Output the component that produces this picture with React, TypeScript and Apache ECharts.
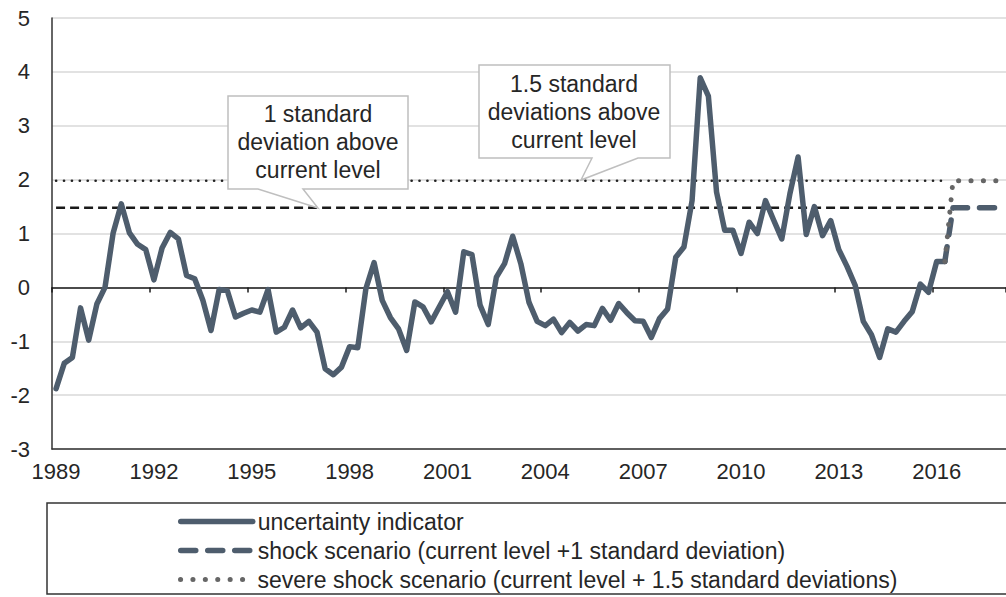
import React, { useEffect, useRef } from 'react';
import * as echarts from 'echarts';

const FONT = '"Liberation Sans", Arial, Helvetica, sans-serif';
const TEXT_COLOR = '#262626';
const SLATE = '#4e5d6d';

// Categories: quarters 1989 Q1 .. 2018 Q1
const years = [
  1989, 1990, 1991, 1992, 1993, 1994, 1995, 1996, 1997, 1998, 1999, 2000, 2001, 2002, 2003,
  2004, 2005, 2006, 2007, 2008, 2009, 2010, 2011, 2012, 2013, 2014, 2015, 2016, 2017, 2018,
];
const quarterNames = ['Q1', 'Q2', 'Q3', 'Q4'];
const quarters: string[] = [];
years.forEach((y) => quarterNames.forEach((q) => quarters.push(`${y} ${q}`)));
quarters.splice(117);

// Uncertainty indicator, quarterly, 1989 Q1 .. 2016 Q2
const uncertainty: number[] = [
  -1.88, -1.41, -1.30, -0.38, // 1989
  -0.98, -0.31, 0.00, 1.01, // 1990
  1.55, 1.01, 0.80, 0.70, // 1991
  0.14, 0.73, 1.02, 0.90, // 1992
  0.22, 0.16, -0.24, -0.80, // 1993
  -0.04, -0.06, -0.55, -0.48, // 1994
  -0.42, -0.46, -0.04, -0.83, // 1995
  -0.74, -0.42, -0.75, -0.63, // 1996
  -0.83, -1.51, -1.62, -1.48, // 1997
  -1.10, -1.12, -0.02, 0.46, // 1998
  -0.24, -0.56, -0.77, -1.17, // 1999
  -0.27, -0.36, -0.64, -0.36, // 2000
  -0.08, -0.46, 0.66, 0.61, // 2001
  -0.33, -0.69, 0.19, 0.44, // 2002
  0.95, 0.44, -0.28, -0.63, // 2003
  -0.71, -0.59, -0.84, -0.65, // 2004
  -0.81, -0.69, -0.71, -0.39, // 2005
  -0.61, -0.30, -0.47, -0.62, // 2006
  -0.63, -0.93, -0.58, -0.40, // 2007
  0.56, 0.75, 1.61, 3.89, // 2008
  3.55, 1.77, 1.06, 1.06, // 2009
  0.63, 1.21, 1.00, 1.61, // 2010
  1.25, 0.90, 1.74, 2.42, // 2011
  0.98, 1.50, 0.96, 1.24, // 2012
  0.70, 0.39, 0.04, -0.63, // 2013
  -0.88, -1.30, -0.77, -0.83, // 2014
  -0.63, -0.45, 0.06, -0.09, // 2015
  0.48, 0.48, // 2016
];

const shockLevel = 1.48; // current level + 1 standard deviation
const severeLevel = 1.98; // current level + 1.5 standard deviations

const yTicks = { min: -3, max: 5, interval: 1 };

const seriesNames = [
  'uncertainty indicator',
  'shock scenario (current level +1 standard deviation)',
  'severe shock scenario (current level + 1.5 standard deviations)',
];

const annotationTexts = [
  '1 standard\ndeviation above\ncurrent level',
  '1.5 standard\ndeviations above\ncurrent level',
];

export default function App() {
  const ref = useRef<HTMLDivElement>(null);

  useEffect(() => {
    if (!ref.current) return;
    const chart = echarts.init(ref.current, undefined, { renderer: 'svg' });
    const lastIdx = uncertainty.length - 1;

    const refShock = quarters.map((_, i) => (i <= lastIdx ? shockLevel : null));
    const refSevere = quarters.map((_, i) => (i <= lastIdx ? severeLevel : null));
    const shockScenario = quarters.map((_, i) =>
      i < lastIdx ? null : i === lastIdx ? uncertainty[lastIdx] : shockLevel
    );
    const severeScenario = quarters.map((_, i) =>
      i < lastIdx ? null : i === lastIdx ? uncertainty[lastIdx] : severeLevel
    );

    const textStyleBase = { fontFamily: FONT, fontSize: 23, fill: TEXT_COLOR };

    const legends = seriesNames.map((name, i) => ({
      data: [name],
      orient: 'horizontal',
      left: 178,
      top: 510 + 29 * i,
      padding: 0,
      itemWidth: 72,
      itemHeight: 14,
      selectedMode: false,
      itemStyle: { opacity: 0 },
      lineStyle: { width: 'inherit', type: 'inherit', cap: 'inherit' },
      textStyle: { fontSize: 23, fontFamily: FONT, color: TEXT_COLOR },
    }));

    chart.setOption({
      animation: false,
      grid: { left: 52, top: 18, width: 955, height: 431, containLabel: false },
      xAxis: [
        {
          type: 'category',
          data: quarters,
          boundaryGap: true,
          position: 'bottom',
          axisLine: { onZero: false, lineStyle: { color: '#333', width: 1.5 } },
          axisTick: { show: false },
          axisLabel: {
            interval: 11,
            formatter: (v: string) => v.slice(0, 4),
            fontSize: 22,
            fontFamily: FONT,
            color: TEXT_COLOR,
            margin: 11,
          },
          splitLine: { show: false },
        },
        {
          type: 'category',
          data: quarters,
          boundaryGap: true,
          position: 'bottom',
          axisLine: { onZero: true, lineStyle: { color: '#1a1a1a', width: 1.5 } },
          axisTick: { show: true, interval: 11, length: 5, lineStyle: { color: '#1a1a1a', width: 1.5 } },
          axisLabel: { show: false },
          splitLine: { show: false },
        },
      ],
      yAxis: {
        type: 'value',
        min: yTicks.min,
        max: yTicks.max,
        interval: yTicks.interval,
        axisLine: { show: true, onZero: false, lineStyle: { color: '#333', width: 1.5 } },
        axisTick: { show: false },
        axisLabel: { fontSize: 22, fontFamily: FONT, color: TEXT_COLOR, margin: 22 },
        splitLine: { lineStyle: { color: '#d9d9d9', width: 1.5 } },
      },
      legend: legends,
      series: [
        {
          name: 'ref shock',
          type: 'line',
          data: refShock,
          symbol: 'none',
          silent: true,
          lineStyle: { color: '#1a1a1a', width: 2.5, type: [9, 5] },
          z: 2,
        },
        {
          name: 'ref severe',
          type: 'line',
          data: refSevere,
          symbol: 'none',
          silent: true,
          lineStyle: { color: '#222', width: 2.6, type: [0.1, 7.8], cap: 'round' },
          z: 2,
        },
        {
          name: seriesNames[0],
          type: 'line',
          data: uncertainty,
          symbol: 'none',
          lineStyle: { color: SLATE, width: 5.5, join: 'round', cap: 'round' },
          itemStyle: { color: SLATE },
          z: 3,
        },
        {
          name: seriesNames[1],
          type: 'line',
          data: shockScenario,
          symbol: 'none',
          lineStyle: { color: SLATE, width: 5.5, type: [15, 12], join: 'round', cap: 'round' },
          itemStyle: { color: SLATE },
          z: 4,
        },
        {
          name: seriesNames[2],
          type: 'line',
          data: severeScenario,
          symbol: 'none',
          lineStyle: { color: '#666666', width: 5, type: [0.1, 12.3], cap: 'round' },
          itemStyle: { color: '#666666' },
          z: 5,
        },
      ],
      graphic: [
        {
          type: 'rect',
          z: 50,
          shape: { x: 47, y: 503, width: 970, height: 91 },
          style: { fill: 'none', stroke: '#333', lineWidth: 1.5 },
          silent: true,
        },
        {
          type: 'polygon',
          z: 100,
          shape: {
            points: [
              [228, 96], [408, 96], [408, 189], [303, 189], [318, 208], [258, 189], [228, 189],
            ],
          },
          style: { fill: '#ffffff', stroke: '#bfbfbf', lineWidth: 1.5 },
          silent: true,
        },
        {
          type: 'text',
          z: 101,
          x: 318,
          y: 142,
          style: { ...textStyleBase, text: annotationTexts[0], align: 'center', verticalAlign: 'middle', lineHeight: 28 },
          silent: true,
        },
        {
          type: 'polygon',
          z: 100,
          shape: {
            points: [
              [479, 65], [670, 65], [670, 158], [638, 158], [581, 180], [592, 158], [479, 158],
            ],
          },
          style: { fill: '#ffffff', stroke: '#bfbfbf', lineWidth: 1.5 },
          silent: true,
        },
        {
          type: 'text',
          z: 101,
          x: 574,
          y: 112,
          style: { ...textStyleBase, text: annotationTexts[1], align: 'center', verticalAlign: 'middle', lineHeight: 28 },
          silent: true,
        },
      ],
    });

    return () => chart.dispose();
  }, []);

  return (
    <div
      ref={ref}
      style={{ position: 'fixed', left: 0, top: 0, width: 1006, height: 597, background: '#fff' }}
    />
  );
}
